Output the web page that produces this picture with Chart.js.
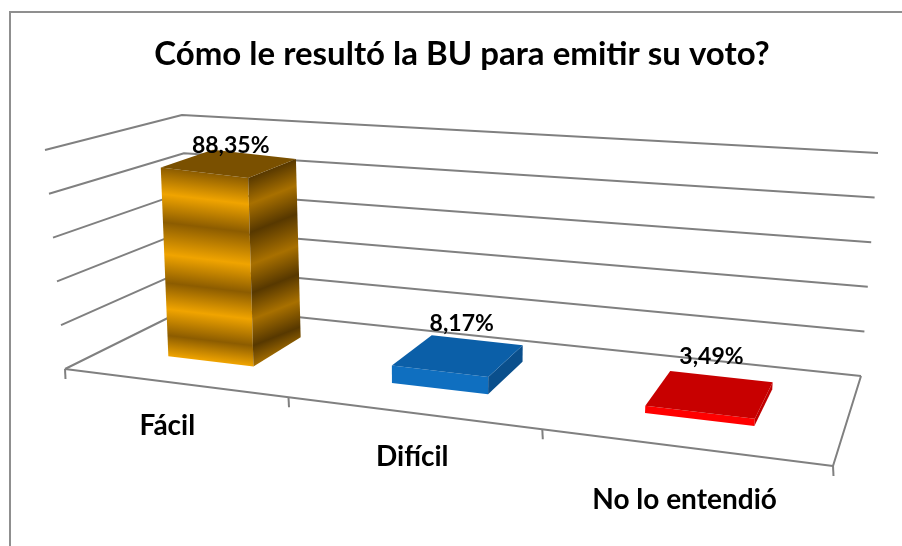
<!DOCTYPE html>
<html><head><meta charset="utf-8">
<style>html,body{margin:0;padding:0;background:#fff}#w{width:902px;height:546px}canvas{display:block}</style>
<script src="https://cdn.jsdelivr.net/npm/chart.js@4/dist/chart.umd.min.js"></script>
</head><body><div id="w"><canvas id="c" width="902" height="546"></canvas></div>
<script>
const categories = ['Fácil', 'Difícil', 'No lo entendió'];
const values = [88.35, 8.17, 3.49];
const valueLabels = ['88,35%', '8,17%', '3,49%'];
const titleText = 'Cómo le resultó la BU para emitir su voto?';
const barColors = ['#e8a000', '#0f6fc0', '#ff0000'];
const sideColors = ['#7a5000', '#0a4f8c', '#c00000'];
const topColors = ['#7a5000', '#0b5fa8', '#c80000'];
const yMax = 100, yStep = 20;

// perspective box of the 3D plot: corners [frontLeft, frontRight, backRight, backLeft]
const floorQuad = [[65,369],[833,466],[861,376],[192,306]];
const wallTopQuad = [[45,150],[855,216],[878,153],[182,115]];
const barTopQuad = [[54,147],[851,245],[876,185],[183,110]];
const depthFront = 0.29, depthBack = 0.72;
const valueNudge = [[1,-18],[3,-32],[1,-37]];
const categoryNudge = [[-6,43],[1,44],[2,53]];

function homography(q){
  const [[x0,y0],[x1,y1],[x2,y2],[x3,y3]] = q;
  const dx1=x1-x2, dx2=x3-x2, sx=x0-x1+x2-x3, dy1=y1-y2, dy2=y3-y2, sy=y0-y1+y2-y3;
  const den=dx1*dy2-dx2*dy1;
  const g=(sx*dy2-dx2*sy)/den, h=(dx1*sy-sx*dy1)/den;
  const a=x1-x0+g*x1, b=x3-x0+h*x3, d=y1-y0+g*y1, e=y3-y0+h*y3;
  return (u,v)=>{const w=g*u+h*v+1;return [(a*u+b*v+x0)/w,(d*u+e*v+y0)/w];};
}
const floorH = homography(floorQuad), wallH = homography(wallTopQuad), barH = homography(barTopQuad);
function mix(f,t,v){return [f[0]+(t[0]-f[0])*v, f[1]+(t[1]-f[1])*v];}
const projectWall=(u,v,d)=>mix(floorH(u,d),wallH(u,d),v);
const projectBar=(u,v,d)=>mix(floorH(u,d),barH(u,d),v);
function poly(ctx,pts,fill){
  ctx.beginPath();pts.forEach((p,i)=>i?ctx.lineTo(p[0],p[1]):ctx.moveTo(p[0],p[1]));ctx.closePath();
  ctx.fillStyle=fill;ctx.fill();
}
function stripes(ctx,a,b,c,light,dark){
  // a->b is the top edge, a->c the vertical edge: bands run parallel to a->b
  const ex=b[0]-a[0],ey=b[1]-a[1],l=Math.hypot(ex,ey),nx=-ey/l,ny=ex/l;
  const len=(c[0]-a[0])*nx+(c[1]-a[1])*ny;
  const g=ctx.createLinearGradient(a[0],a[1],a[0]+nx*len,a[1]+ny*len);
  [[0,dark],[.14,light],[.29,dark],[.46,light],[.61,dark],[.75,light],[.89,dark],[1,light]].forEach(s=>g.addColorStop(s[0],s[1]));
  return g;
}
const plot3d = {
  id:'plot3d',
  beforeDatasetsDraw(chart){
    const ctx=chart.ctx, y=chart.scales.y, a=chart.chartArea;
    ctx.save();
    ctx.strokeStyle='#8f8f8f';ctx.lineWidth=2;
    ctx.beginPath();ctx.moveTo(10,546);ctx.lineTo(10,12);ctx.lineTo(902,12);ctx.stroke();
    ctx.strokeStyle='#808080';ctx.lineWidth=2;ctx.lineJoin='round';
    y.ticks.forEach(t=>{
      const v=(a.bottom-y.getPixelForValue(t.value))/(a.bottom-a.top);
      const p=[projectWall(0,v,0),projectWall(0,v,1),projectWall(1,v,1)];
      ctx.beginPath();p.forEach((q,i)=>i?ctx.lineTo(q[0],q[1]):ctx.moveTo(q[0],q[1]));ctx.stroke();
    });
    const fr=[projectWall(0,0,0),projectWall(1,0,0),projectWall(1,0,1)];
    ctx.beginPath();fr.forEach((q,i)=>i?ctx.lineTo(q[0],q[1]):ctx.moveTo(q[0],q[1]));ctx.stroke();
    const n=categories.length;
    for(let i=0;i<=n;i++){
      const q=projectWall(i/n,0,0);
      ctx.beginPath();ctx.moveTo(q[0],q[1]);ctx.lineTo(q[0]+0.5,q[1]+10);ctx.stroke();
    }
    ctx.restore();
  },
  beforeDatasetDraw(){return false;},
  afterDatasetsDraw(chart){
    const ctx=chart.ctx, a=chart.chartArea, w=a.right-a.left, h=a.bottom-a.top;
    const bars=chart.getDatasetMeta(0).data;
    ctx.save();
    bars.forEach((bar,i)=>{
      const b=bar.getProps(['x','y','base','width'],true);
      const u0=(b.x-b.width/2-a.left)/w, u1=(b.x+b.width/2-a.left)/w;
      const v0=(a.bottom-b.base)/h, v1=(a.bottom-b.y)/h;
      const P=projectBar;
      const fbl=P(u0,v0,depthFront), fbr=P(u1,v0,depthFront), bbr=P(u1,v0,depthBack);
      const ftl=P(u0,v1,depthFront), ftr=P(u1,v1,depthFront), btr=P(u1,v1,depthBack), btl=P(u0,v1,depthBack);
      let frontFill=barColors[i], sideFill=sideColors[i];
      if(i===0){
        frontFill=stripes(ctx,ftl,ftr,fbl,'#f0a400','#8c5c00');
        sideFill=stripes(ctx,ftr,btr,fbr,'#a87000','#573800');
      }
      poly(ctx,[ftl,ftr,fbr,fbl],frontFill);
      poly(ctx,[ftr,btr,bbr,fbr],sideFill);
      poly(ctx,[ftl,btl,btr,ftr],topColors[i]);
      const c=P((u0+u1)/2,v1,(depthFront+depthBack)/2);
      ctx.font='bold 23px Lato';ctx.fillStyle='#000';ctx.textAlign='center';ctx.textBaseline='middle';
      ctx.fillText(valueLabels[i],c[0]+valueNudge[i][0],c[1]+valueNudge[i][1]);
    });
    ctx.font='bold 28px Lato';ctx.fillStyle='#000';ctx.textAlign='center';ctx.textBaseline='middle';
    categories.forEach((t,i)=>{
      const q=projectWall((i+.5)/categories.length,0,0);
      ctx.fillText(t,q[0]+categoryNudge[i][0],q[1]+categoryNudge[i][1]);
    });
    ctx.restore();
  }
};
new Chart(document.getElementById('c'),{
  type:'bar',
  data:{labels:categories,datasets:[{label:'Voto',data:values,backgroundColor:barColors,barPercentage:.395,categoryPercentage:1}]},
  options:{
    responsive:false,animation:false,
    layout:{padding:{top:0,left:42,right:20,bottom:40}},
    plugins:{
      legend:{display:false},tooltip:{enabled:false},
      title:{display:true,text:titleText,color:'#000',font:{family:'Lato',weight:'bold',size:33},padding:{top:35,bottom:20}}
    },
    scales:{
      x:{display:false},
      y:{display:false,min:0,max:yMax,ticks:{stepSize:yStep}}
    }
  },
  plugins:[plot3d]
});
</script></body></html>
